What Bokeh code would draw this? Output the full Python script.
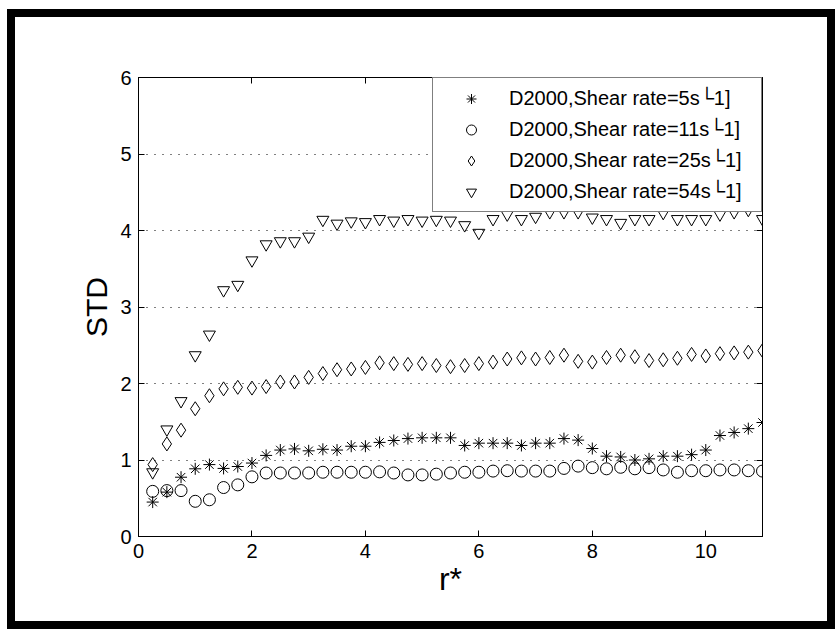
from bokeh.plotting import figure
from bokeh.models import (Range1d, LinearAxis, FixedTicker, Legend, LegendItem,
                          ColumnDataSource)
from bokeh.embed import file_html
from bokeh.resources import INLINE

# ---------------- data ----------------
r_star = [0.25, 0.5, 0.75, 1.0, 1.25, 1.5, 1.75, 2.0, 2.25, 2.5, 2.75,
          3.0, 3.25, 3.5, 3.75, 4.0, 4.25, 4.5, 4.75, 5.0, 5.25, 5.5,
          5.75, 6.0, 6.25, 6.5, 6.75, 7.0, 7.25, 7.5, 7.75, 8.0, 8.25,
          8.5, 8.75, 9.0, 9.25, 9.5, 9.75, 10.0, 10.25, 10.5, 10.75, 11.0]

std_5 = [0.45, 0.58, 0.775, 0.885, 0.94, 0.89, 0.915, 0.96, 1.06, 1.13, 1.145,
         1.12, 1.14, 1.13, 1.18, 1.18, 1.23, 1.255, 1.28, 1.29, 1.29, 1.29,
         1.19, 1.22, 1.22, 1.22, 1.19, 1.22, 1.22, 1.28, 1.26, 1.15, 1.05,
         1.04, 1.00, 1.015, 1.05, 1.05, 1.07, 1.13, 1.32, 1.36, 1.41, 1.49]

std_11 = [0.59, 0.60, 0.60, 0.46, 0.48, 0.64, 0.675, 0.78, 0.83, 0.83, 0.83,
          0.83, 0.84, 0.84, 0.84, 0.84, 0.845, 0.83, 0.805, 0.805, 0.815, 0.83,
          0.84, 0.84, 0.855, 0.86, 0.855, 0.855, 0.855, 0.89, 0.92, 0.90, 0.885,
          0.905, 0.885, 0.90, 0.87, 0.84, 0.86, 0.86, 0.87, 0.87, 0.86, 0.855]

std_25 = [0.94, 1.21, 1.39, 1.67, 1.84, 1.93, 1.95, 1.94, 1.96, 2.02, 2.02,
          2.08, 2.13, 2.18, 2.19, 2.21, 2.27, 2.26, 2.25, 2.26, 2.235, 2.22,
          2.235, 2.26, 2.28, 2.32, 2.335, 2.32, 2.34, 2.37, 2.29, 2.28, 2.34,
          2.37, 2.35, 2.30, 2.31, 2.33, 2.38, 2.36, 2.39, 2.40, 2.41, 2.43]

std_54 = [0.84, 1.40, 1.77, 2.37, 2.64, 3.22, 3.29, 3.61, 3.82, 3.86, 3.86,
          3.92, 4.14, 4.09, 4.12, 4.11, 4.15, 4.13, 4.15, 4.13, 4.14, 4.13,
          4.07, 3.97, 4.15, 4.21, 4.15, 4.18, 4.24, 4.24, 4.24, 4.17, 4.15,
          4.10, 4.15, 4.15, 4.23, 4.15, 4.15, 4.15, 4.21, 4.24, 4.27, 4.15]

series_labels = ["D2000,Shear rate=5s\u25141]",
                 "D2000,Shear rate=11s\u25141]",
                 "D2000,Shear rate=25s\u25141]",
                 "D2000,Shear rate=54s\u25141]"]

x_ticks = [0, 2, 4, 6, 8, 10]
x_tick_labels = ["0", "2", "4", "6", "8", "10"]
y_ticks = [0, 1, 2, 3, 4, 5, 6]
y_tick_labels = ["0", "1", "2", "3", "4", "5", "6"]
x_label = "r*"
y_label = "STD"

# ---------------- figure ----------------
TICK_FONT = "Liberation Sans Narrow, Liberation Sans, Arial"
TEXT_FONT = "Liberation Sans, Arial"

p = figure(width=812, height=604, x_range=Range1d(0, 11), y_range=Range1d(0, 6),
           output_backend="svg", toolbar_location=None,
           min_border_left=123, min_border_right=65,
           min_border_top=60, min_border_bottom=85,
           x_axis_label=x_label, y_axis_label=y_label)
# thick black frame drawn around the whole figure (outline does not change layout)
p.styles = {"outline": "8px solid black", "margin-left": "15px", "margin-top": "17px"}
p.background_fill_color = "white"
p.border_fill_color = "white"
p.outline_line_color = "black"
p.outline_line_width = 1

p.xgrid.visible = False
p.ygrid.ticker = FixedTicker(ticks=y_ticks)
p.ygrid.grid_line_color = "black"
p.ygrid.grid_line_dash = "1 7"
p.ygrid.grid_line_width = 1

def style_axis(ax, ticks, labels=None, show_labels=True):
    ax.ticker = FixedTicker(ticks=ticks)
    if labels is not None:
        ax.major_label_overrides = {t: l for t, l in zip(ticks, labels)}
    ax.major_tick_in = 6
    ax.major_tick_out = 0
    ax.minor_tick_in = 0
    ax.minor_tick_out = 0
    ax.axis_line_color = "black"
    ax.axis_line_width = 1
    ax.major_tick_line_color = "black"
    ax.major_label_text_font = TICK_FONT
    ax.major_label_text_font_size = "20px"
    ax.major_label_text_color = "black" if show_labels else None
    ax.major_label_standoff = 7

style_axis(p.xaxis[0], x_ticks, x_tick_labels)
style_axis(p.yaxis[0], y_ticks, y_tick_labels)

p.xaxis[0].axis_label_text_font = TICK_FONT
p.xaxis[0].axis_label_text_font_size = "32px"
p.yaxis[0].axis_label_text_font = TEXT_FONT
p.yaxis[0].axis_label_text_font_size = "30px"
for ax in (p.xaxis[0], p.yaxis[0]):
    ax.axis_label_text_font_style = "normal"
    ax.axis_label_text_color = "black"
p.xaxis[0].axis_label_standoff = 0
p.yaxis[0].axis_label_standoff = 4

top_ax = LinearAxis()
style_axis(top_ax, x_ticks, show_labels=False)
p.add_layout(top_ax, "above")
right_ax = LinearAxis()
style_axis(right_ax, y_ticks, show_labels=False)
p.add_layout(right_ax, "right")

# ---------------- data marks ----------------
src = ColumnDataSource(dict(r=r_star, s5=std_5, s11=std_11, s25=std_25, s54=std_54))
r1 = p.scatter("r", "s5", source=src, marker="asterisk", size=12,
               line_color="black", line_width=1)
r2 = p.scatter("r", "s11", source=src, marker="circle", size=12,
               fill_color=None, line_color="black", line_width=1)
r3 = p.scatter("r", "s25", source=src, marker="diamond", size=14,
               fill_color=None, line_color="black", line_width=1)
r4 = p.scatter("r", "s54", source=src, marker="inverted_triangle", size=12,
               fill_color=None, line_color="black", line_width=1)

legend = Legend(items=[LegendItem(label=lab, renderers=[rr])
                       for lab, rr in zip(series_labels, [r1, r2, r3, r4])],
                location="top_right", margin=0, padding=6, spacing=3,
                glyph_width=64, glyph_height=25, label_height=28,
                label_width=246, label_standoff=6,
                border_line_color="black", border_line_width=1,
                background_fill_color="white", background_fill_alpha=1.0,
                label_text_font=TEXT_FONT, label_text_font_size="20px",
                label_text_color="black")
p.add_layout(legend)

open("out.html", "w").write(file_html(p, INLINE))
